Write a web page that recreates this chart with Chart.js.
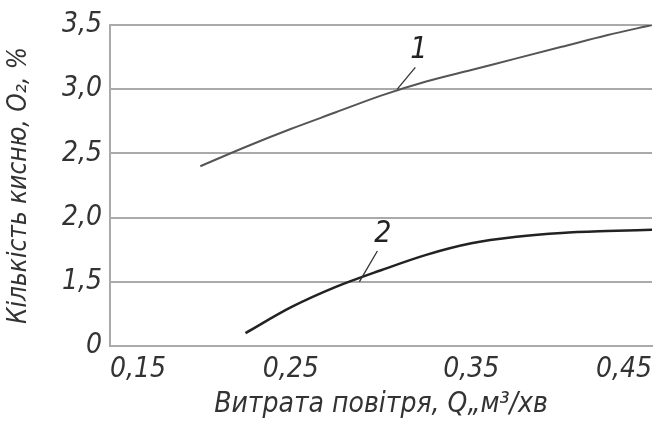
<!DOCTYPE html>
<html>
<head>
<meta charset="utf-8">
<script src="https://cdn.jsdelivr.net/npm/chart.js@4/dist/chart.umd.min.js"></script>
<style>
html,body{margin:0;padding:0;background:#fff;}
#wrap{width:670px;height:426px;}
</style>
</head>
<body>
<div id="wrap"><canvas id="c" width="670" height="426"></canvas></div>
<script>
// Data
const airFlow1 = [0.20, 0.225, 0.25, 0.275, 0.30, 0.325, 0.35, 0.375, 0.40, 0.425, 0.45];
const oxygen1  = [2.40, 2.55, 2.69, 2.82, 2.95, 3.06, 3.15, 3.24, 3.33, 3.42, 3.50];
const airFlow2 = [0.225, 0.25, 0.275, 0.30, 0.325, 0.35, 0.375, 0.40, 0.425, 0.45];
const oxygen2  = [1.10, 1.30, 1.46, 1.59, 1.71, 1.80, 1.85, 1.88, 1.895, 1.905];
const curveLabels = ['1', '2'];
const labelAnchors = [[0.309, 3.0], [0.288, 1.5]];   // point on curve
const leaderEnds   = [[0.319, 3.17], [0.298, 1.74]]; // end of leader line
const labelPos     = [[0.321, 3.30], [0.301, 1.87]]; // label text position
const xTitle = 'Витрата повітря, Q„м³/хв';
const yTitle = 'Кількість кисню, O₂, %';

const FONT = "'DejaVu Sans Condensed', 'DejaVu Sans', sans-serif";

const toPts = (xs, ys) => xs.map((x, i) => ({x: x, y: ys[i]}));

const labelPlugin = {
  id: 'curveLabels',
  afterDatasetsDraw(chart) {
    const {ctx, scales: {x, y}} = chart;
    ctx.save();
    ctx.strokeStyle = '#333';
    ctx.lineWidth = 1.3;
    ctx.fillStyle = '#222';
    ctx.font = 'italic 30px ' + FONT;
    ctx.textAlign = 'center';
    ctx.textBaseline = 'middle';
    curveLabels.forEach((t, i) => {
      ctx.beginPath();
      ctx.moveTo(x.getPixelForValue(labelAnchors[i][0]), y.getPixelForValue(labelAnchors[i][1]));
      ctx.lineTo(x.getPixelForValue(leaderEnds[i][0]), y.getPixelForValue(leaderEnds[i][1]));
      ctx.stroke();
      ctx.fillText(t, x.getPixelForValue(labelPos[i][0]), y.getPixelForValue(labelPos[i][1]));
    });
    ctx.restore();
  }
};

new Chart(document.getElementById('c'), {
  type: 'line',
  data: {
    datasets: [
      {
        label: '1',
        data: toPts(airFlow1, oxygen1),
        borderColor: '#555',
        borderWidth: 2,
        pointRadius: 0,
        cubicInterpolationMode: 'monotone',
        fill: false
      },
      {
        label: '2',
        data: toPts(airFlow2, oxygen2),
        borderColor: '#222',
        borderWidth: 2.5,
        pointRadius: 0,
        cubicInterpolationMode: 'monotone',
        fill: false
      }
    ]
  },
  options: {
    responsive: false,
    animation: false,
    layout: {padding: {top: 25, right: 18, left: 0, bottom: 0}},
    plugins: {legend: {display: false}, tooltip: {enabled: false}},
    scales: {
      x: {
        type: 'linear',
        min: 0.15, max: 0.45,
        afterFit(s) { s.height = 80; s.paddingRight = 0; s.paddingLeft = 0; },
        ticks: {
          stepSize: 0.1,
          align: 'inner',
          color: '#333',
          padding: 2,
          font: {family: FONT, size: 28, style: 'italic'},
          callback: v => v.toFixed(2).replace('.', ',')
        },
        grid: {display: false, drawTicks: true, tickLength: 5},
        border: {display: true, color: '#aaa', width: 2},
        title: {
          display: true,
          text: xTitle,
          color: '#333',
          padding: {top: 0},
          font: {family: FONT, size: 28, style: 'italic'}
        }
      },
      y: {
        type: 'linear',
        min: 1.0, max: 3.5,
        afterFit(s) { s.width = 110; s.paddingTop = 0; s.paddingBottom = 0; },
        ticks: {
          stepSize: 0.5,
          color: '#333',
          padding: 8,
          font: {family: FONT, size: 28, style: 'italic'},
          callback: v => (Math.abs(v - 1) < 1e-9 ? '0' : v.toFixed(1).replace('.', ','))
        },
        grid: {
          color: ctx => (ctx.tick && Math.abs(ctx.tick.value - 1) < 1e-9 ? 'rgba(0,0,0,0)' : '#aaa'),
          lineWidth: 2,
          drawTicks: false
        },
        border: {display: true, color: '#aaa', width: 2},
        title: {
          display: true,
          text: yTitle,
          color: '#333',
          padding: {bottom: 0},
          font: {family: FONT, size: 26, style: 'italic'}
        }
      }
    }
  },
  plugins: [labelPlugin]
});
</script>
</body>
</html>
